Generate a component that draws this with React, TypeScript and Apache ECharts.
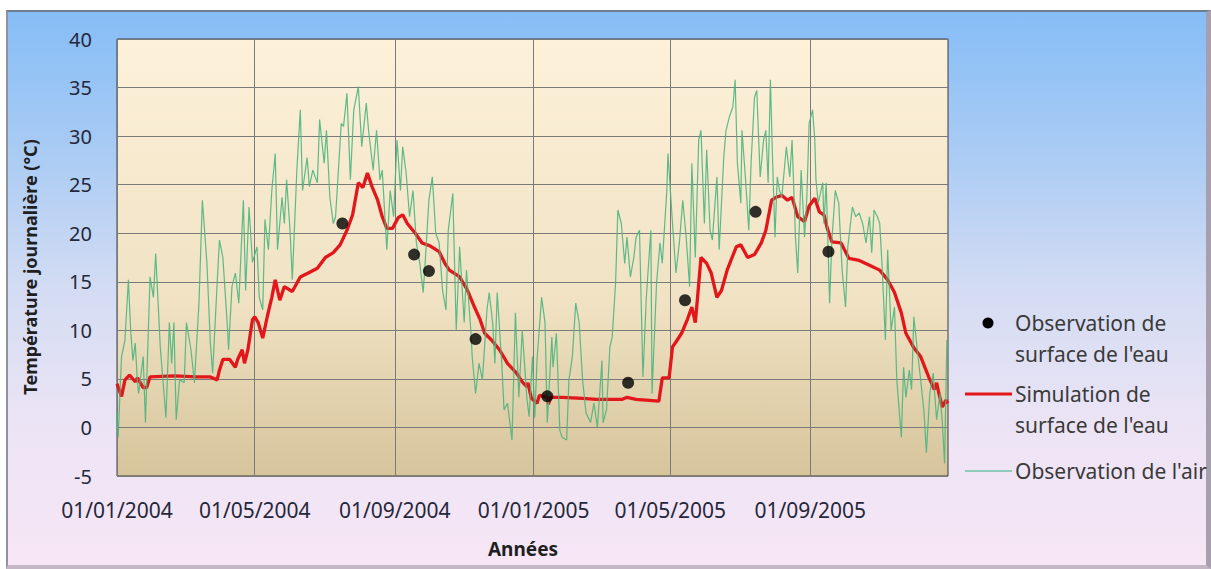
import React, { useEffect, useRef } from "react";
import * as echarts from "echarts";

// x positions are days since 01/01/2004
const tickDays = [0, 121, 244, 366, 486, 609];
const tickLabels = ["01/01/2004", "01/05/2004", "01/09/2004", "01/01/2005", "01/05/2005", "01/09/2005"];

const obsDays = [198, 261, 274, 315, 378, 449, 499, 561, 625];
const obsTemps = [21.0, 17.8, 16.1, 9.1, 3.2, 4.6, 13.1, 22.2, 18.1];

const simDays = [0, 4, 7, 11, 16, 18, 23, 26, 29, 50, 70, 82, 88, 90, 93, 99, 104, 106, 110, 112, 115, 119, 121, 124, 128, 132, 136, 139, 143, 147, 154, 161, 168, 176, 183, 190, 196, 202, 207, 212, 216, 220, 224, 229, 233, 237, 242, 247, 251, 255, 262, 268, 275, 283, 288, 292, 301, 308, 314, 319, 323, 329, 336, 343, 351, 356, 360, 361, 364, 369, 371, 378, 379, 381, 391, 409, 421, 444, 448, 456, 476, 479, 485, 488, 491, 496, 501, 505, 508, 510, 513, 518, 522, 527, 531, 536, 544, 548, 554, 560, 566, 570, 575, 579, 584, 589, 593, 598, 604, 608, 613, 617, 621, 624, 628, 636, 643, 652, 661, 670, 677, 683, 689, 693, 700, 706, 713, 718, 720, 722, 725, 728, 730];
const simTemps = [4.5, 3.2, 4.9, 5.4, 4.7, 5.1, 4.1, 4.1, 5.2, 5.3, 5.2, 5.2, 4.9, 5.9, 7.0, 7.0, 6.2, 7.0, 8.0, 6.6, 8.0, 11.1, 11.4, 10.8, 9.2, 11.4, 13.4, 15.2, 13.1, 14.5, 14.0, 15.5, 15.9, 16.4, 17.5, 18.0, 18.8, 20.3, 21.9, 25.2, 24.7, 26.2, 24.8, 23.4, 21.7, 20.5, 20.5, 21.6, 21.9, 21.0, 20.0, 19.0, 18.7, 18.1, 16.9, 16.2, 15.5, 14.1, 12.4, 11.1, 9.7, 9.0, 8.0, 6.6, 5.6, 4.7, 4.2, 4.6, 3.0, 2.5, 3.3, 3.1, 2.4, 3.1, 3.1, 3.0, 2.9, 2.9, 3.1, 2.9, 2.7, 5.1, 5.1, 8.3, 8.8, 9.7, 11.1, 12.4, 10.8, 13.4, 17.5, 16.9, 15.9, 13.4, 14.1, 16.2, 18.6, 18.8, 17.5, 17.8, 19.0, 20.3, 23.4, 23.7, 23.9, 23.4, 23.7, 21.7, 21.2, 22.8, 23.6, 22.2, 21.9, 20.5, 19.1, 19.0, 17.4, 17.2, 16.7, 16.2, 15.2, 13.9, 11.8, 9.7, 8.2, 7.3, 5.2, 3.9, 4.6, 3.5, 2.1, 2.8, 2.5];

const airDays = [0, 1, 4, 7, 10, 12, 14, 16, 18, 19, 23, 25, 29, 32, 34, 38, 43, 46, 48, 50, 52, 55, 59, 61, 65, 68, 72, 75, 79, 82, 84, 88, 90, 93, 97, 98, 101, 104, 107, 111, 113, 116, 119, 123, 125, 128, 130, 133, 136, 139, 141, 145, 147, 149, 152, 154, 158, 161, 163, 167, 169, 172, 176, 178, 182, 184, 187, 190, 192, 197, 199, 202, 205, 208, 212, 215, 219, 221, 225, 228, 231, 233, 237, 240, 243, 246, 249, 251, 254, 257, 260, 263, 266, 269, 271, 274, 277, 280, 283, 286, 289, 291, 295, 298, 301, 305, 307, 311, 312, 315, 318, 321, 325, 327, 330, 332, 334, 338, 340, 343, 347, 350, 353, 356, 360, 362, 365, 367, 369, 373, 376, 378, 382, 383, 386, 389, 391, 395, 397, 400, 403, 406, 409, 412, 416, 419, 422, 426, 427, 430, 433, 435, 438, 440, 443, 446, 448, 451, 454, 456, 459, 462, 465, 467, 469, 470, 474, 477, 479, 483, 484, 488, 491, 494, 497, 500, 503, 505, 508, 511, 513, 516, 518, 521, 523, 527, 529, 533, 535, 538, 541, 543, 545, 548, 549, 552, 555, 557, 560, 562, 565, 568, 570, 572, 574, 576, 578, 580, 582, 584, 588, 591, 593, 596, 598, 601, 604, 606, 608, 611, 613, 614, 616, 620, 621, 623, 626, 628, 631, 634, 637, 640, 642, 646, 649, 652, 655, 658, 661, 663, 665, 668, 670, 672, 675, 677, 680, 683, 685, 689, 691, 693, 696, 698, 700, 703, 706, 709, 711, 714, 717, 720, 723, 725, 727, 729];
const airTemps = [1.5, -1.0, 7.3, 9.0, 15.2, 10.0, 6.9, 8.7, 4.6, 3.5, 7.3, 0.5, 15.5, 13.4, 17.9, 8.3, 1.0, 10.8, 6.6, 10.8, 0.8, 4.9, 4.6, 10.8, 8.0, 4.6, 12.8, 23.4, 16.9, 8.7, 5.6, 14.9, 19.3, 17.5, 10.4, 8.0, 14.5, 15.9, 12.8, 23.4, 14.1, 22.7, 17.0, 18.6, 13.4, 12.1, 21.4, 18.3, 24.4, 28.2, 18.3, 23.7, 21.0, 25.5, 20.3, 15.2, 26.5, 32.7, 24.4, 27.8, 24.8, 26.5, 25.2, 31.7, 27.2, 30.6, 23.7, 21.0, 21.7, 31.3, 31.0, 34.4, 25.5, 32.7, 35.1, 28.9, 33.4, 30.6, 26.5, 30.6, 25.5, 26.5, 18.3, 24.4, 21.7, 29.6, 24.4, 28.9, 26.2, 21.7, 24.4, 19.0, 16.9, 13.9, 17.5, 23.4, 25.8, 20.0, 19.0, 14.1, 12.1, 20.3, 24.1, 10.0, 18.6, 10.8, 16.2, 9.7, 7.3, 3.5, 6.6, 4.9, 12.1, 13.9, 10.8, 6.6, 13.9, 6.6, 1.8, 2.5, -1.3, 11.8, 3.1, 10.0, 3.1, 1.1, 7.3, 1.0, 7.0, 13.4, 10.8, 0.5, 9.3, 6.2, 9.7, -0.3, -1.0, -1.3, 4.9, 7.3, 12.8, 10.8, 4.9, 1.5, 0.5, 2.5, 0.0, 6.9, 0.5, 1.8, 8.3, 9.3, 14.9, 22.4, 21.0, 16.9, 19.6, 15.5, 17.5, 19.6, 20.3, 5.2, 13.4, 16.9, 20.3, 3.5, 14.9, 19.0, 16.9, 24.4, 28.2, 21.0, 15.9, 19.0, 23.4, 19.6, 14.5, 27.2, 17.5, 29.6, 30.6, 21.0, 28.6, 20.3, 19.3, 25.8, 18.3, 27.8, 30.6, 32.0, 33.0, 35.8, 27.2, 23.1, 30.6, 25.8, 20.3, 27.2, 34.0, 34.7, 25.8, 29.6, 30.6, 25.2, 35.8, 27.2, 19.6, 25.8, 24.4, 23.7, 28.9, 25.8, 29.6, 19.6, 15.9, 26.5, 19.6, 23.7, 31.3, 32.7, 29.6, 25.5, 23.1, 25.2, 21.0, 25.2, 12.8, 19.3, 24.4, 23.1, 16.2, 12.4, 18.6, 22.7, 21.7, 22.1, 21.0, 19.0, 21.7, 18.0, 22.4, 21.7, 21.0, 16.9, 9.0, 18.3, 10.0, 12.4, 4.9, -1.0, 6.2, 3.1, 5.9, 3.9, 11.4, 8.0, 4.9, 1.5, -2.6, 3.5, 5.6, 0.8, 3.5, 0.5, -3.7, 9.0];

const yMin = -5;
const yMax = 40;
const yStep = 5;
const xMax = 730;

const seriesNames = ["Observation de surface de l'eau", "Simulation de surface de l'eau", "Observation de l'air"];

const FONT = "'Noto Sans', 'Open Sans', sans-serif";

export default function App() {
  const ref = useRef<HTMLDivElement>(null);

  useEffect(() => {
    if (!ref.current) return;
    const chart = echarts.init(ref.current, null, { renderer: "svg" });
    const labelFor = (v: number) => {
      const i = tickDays.indexOf(Math.round(v));
      return i >= 0 ? tickLabels[i] : "";
    };
    const legendText = "#3a3a3a";
    chart.setOption({
      animation: false,
      grid: {
        left: 117,
        top: 39,
        width: 831,
        height: 437,
        show: true,
        borderColor: "#3c3c3c",
        borderWidth: 1,
        backgroundColor: new echarts.graphic.LinearGradient(0, 0, 0, 1, [
          { offset: 0, color: "#fdf1da" },
          { offset: 0.6, color: "#f0e2c3" },
          { offset: 1, color: "#d6c49b" },
        ]),
      },
      xAxis: {
        type: "value",
        min: 0,
        max: xMax,
        axisLine: { show: false },
        axisTick: { show: false, customValues: tickDays },
        axisLabel: {
          customValues: tickDays,
          formatter: labelFor,
          fontSize: 21,
          fontFamily: FONT,
          color: "#25283a",
          margin: 23,
        },
        splitLine: { show: true, lineStyle: { color: "#7a7a7a", width: 1 } },
      },
      yAxis: {
        type: "value",
        min: yMin,
        max: yMax,
        interval: yStep,
        axisLine: { show: false },
        axisTick: { show: false },
        axisLabel: { fontSize: 20, fontFamily: FONT, color: "#25283a", margin: 25 },
        splitLine: { show: true, lineStyle: { color: "#7a7a7a", width: 1 } },
      },
      series: [
        {
          name: seriesNames[1],
          type: "line",
          data: simDays.map((d, i) => [d, simTemps[i]]),
          symbol: "none",
          showSymbol: false,
          lineStyle: { color: "#e3161b", width: 3.3 },
          itemStyle: { color: "#e3161b" },
          z: 2,
        },
        {
          name: seriesNames[2],
          type: "line",
          data: airDays.map((d, i) => [d, airTemps[i]]),
          symbol: "none",
          showSymbol: false,
          lineStyle: { color: "#4bb57d", width: 1.2, opacity: 0.9 },
          itemStyle: { color: "#4bb57d" },
          z: 3,
        },
        {
          name: seriesNames[0],
          type: "scatter",
          data: obsDays.map((d, i) => [d, obsTemps[i]]),
          symbolSize: 12,
          itemStyle: { color: "#000000" },
          z: 4,
        },
      ],
      graphic: [
        {
          type: "text",
          x: 30,
          y: 267,
          rotation: Math.PI / 2,
          style: {
            text: "Température journalière (°C)",
            font: `bold 18px ${FONT}`,
            fill: "#1f1f1f",
            align: "center",
            verticalAlign: "middle",
          },
        },
        {
          type: "text",
          x: 523,
          y: 549,
          style: {
            text: "Années",
            font: `bold 19px ${FONT}`,
            fill: "#1f1f1f",
            align: "center",
            verticalAlign: "middle",
          },
        },
        { type: "circle", shape: { cx: 988, cy: 323, r: 5.5 }, style: { fill: "#000" } },
        { type: "line", shape: { x1: 965, y1: 394, x2: 1012, y2: 394 }, style: { stroke: "#e3161b", lineWidth: 3 } },
        { type: "line", shape: { x1: 965, y1: 471, x2: 1012, y2: 471 }, style: { stroke: "#6fc2a6", lineWidth: 1.5 } },
        { type: "text", x: 1015, y: 323, style: { text: "Observation de", font: `21px ${FONT}`, fill: legendText, verticalAlign: "middle" } },
        { type: "text", x: 1015, y: 354, style: { text: "surface de l'eau", font: `21px ${FONT}`, fill: legendText, verticalAlign: "middle" } },
        { type: "text", x: 1015, y: 394, style: { text: "Simulation de", font: `21px ${FONT}`, fill: legendText, verticalAlign: "middle" } },
        { type: "text", x: 1015, y: 425, style: { text: "surface de l'eau", font: `21px ${FONT}`, fill: legendText, verticalAlign: "middle" } },
        { type: "text", x: 1015, y: 471, style: { text: "Observation de l'air", font: `21px ${FONT}`, fill: legendText, verticalAlign: "middle" } },
      ],
    });
    return () => chart.dispose();
  }, []);

  return (
    <div style={{ position: "fixed", left: 0, top: 0, width: 1211, height: 569, background: "#ffffff", overflow: "hidden" }}>
      <div
        style={{
          position: "absolute",
          left: 6,
          top: 10,
          width: 1205,
          height: 559,
          boxSizing: "border-box",
          borderTop: "2px solid #6d7c8e",
          borderLeft: "2px solid #8f949c",
          borderRight: "5px solid #a79fae",
          borderBottom: "4px solid #c5b6c6",
          background: "linear-gradient(to bottom, #86bdf6 0%, #a9cbf4 25%, #d3dcf3 50%, #ece4f5 75%, #f7e6f6 100%)",
        }}
      />
      <div ref={ref} style={{ position: "absolute", left: 0, top: 0, width: 1211, height: 569 }} />
    </div>
  );
}
